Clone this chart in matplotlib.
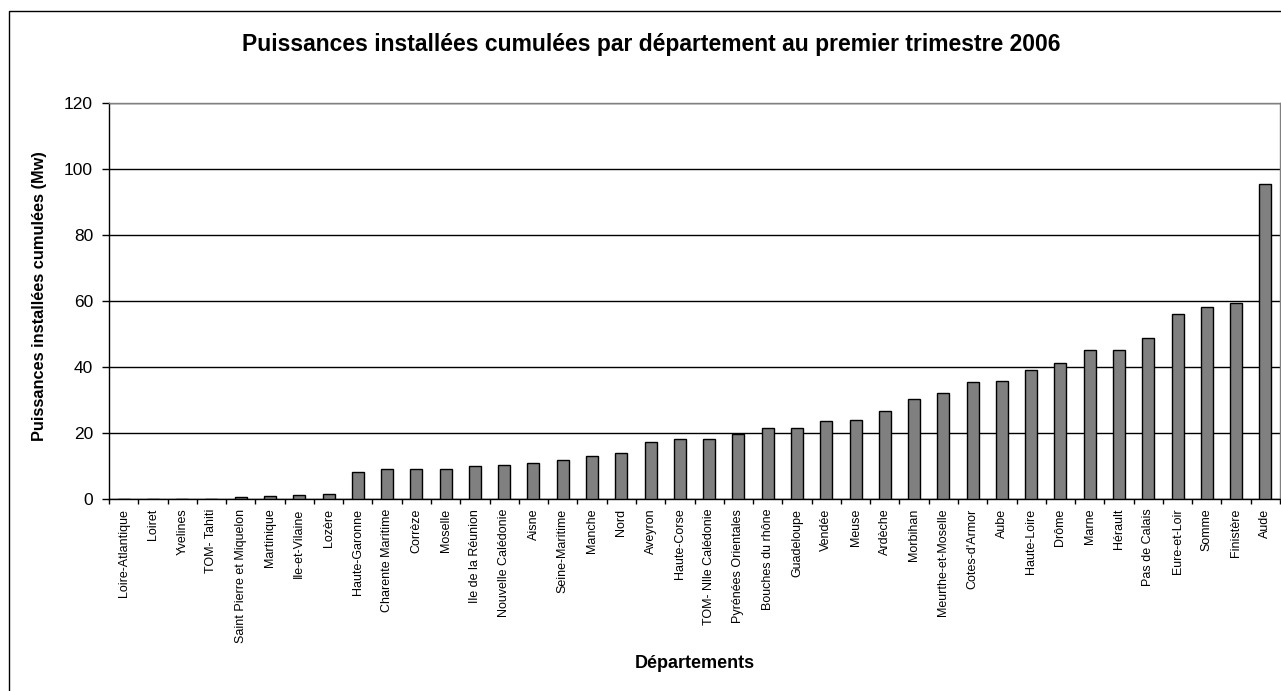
import matplotlib
matplotlib.use("Agg")
import matplotlib.pyplot as plt
import numpy as np
from matplotlib.patches import Rectangle

plt.rcParams['font.family'] = ['Liberation Sans', 'DejaVu Sans']

departements = ["Loire-Atlantique", "Loiret", "Yvelines", "TOM- Tahiti",
                "Saint Pierre et Miquelon", "Martinique", "Ile-et-Vilaine", "Lozère",
                "Haute-Garonne", "Charente Maritime", "Corrèze", "Moselle",
                "Ile de la Réunion", "Nouvelle Calédonie", "Aisne", "Seine-Maritime",
                "Manche", "Nord", "Aveyron", "Haute-Corse", "TOM- Nlle Calédonie",
                "Pyrénées Orientales", "Bouches du rhône", "Guadeloupe", "Vendée",
                "Meuse", "Ardèche", "Morbihan", "Meurthe-et-Moselle", "Cotes-d'Armor",
                "Aube", "Haute-Loire", "Drôme", "Marne", "Hérault", "Pas de Calais",
                "Eure-et-Loir", "Somme", "Finistère", "Aude"]
puissances = [0, 0, 0, 0, 0.7, 0.9, 1.2, 1.6, 8.1, 9.0, 9.0, 9.0, 9.9, 10.4,
              10.9, 11.9, 12.9, 13.8, 17.2, 18.1, 18.1, 19.7, 21.4, 21.4, 23.6,
              23.9, 26.6, 30.4, 32.0, 35.6, 35.9, 39.1, 41.1, 45.3, 45.3, 48.9,
              56.0, 58.1, 59.5, 95.5]
y_ticks = [0, 20, 40, 60, 80, 100, 120]

W, H = 1281, 691
fig = plt.figure(figsize=(W / 100, H / 100), dpi=100)
fig.patches.append(Rectangle((8.5 / W, -10 / H), (W + 20) / W, (H - 10.5 + 10) / H,
                             transform=fig.transFigure, fill=False,
                             edgecolor='black', linewidth=1.0))

ax = fig.add_axes([109 / W, (H - 499) / H, (1280 - 109) / W, (499 - 103) / H])
x = np.arange(len(departements))
ax.bar(x, puissances, width=0.41, color='#808080', edgecolor='black',
       linewidth=1.0, zorder=3)

ax.set_xlim(-0.5, len(departements) - 0.5)
ax.set_ylim(0, 120)
ax.set_yticks(y_ticks)
ax.set_yticklabels([str(v) for v in y_ticks], fontsize=12.5)
ax.yaxis.grid(True, color='black', linewidth=1.0, zorder=0)
ax.set_axisbelow(True)

ax.set_xticks(x)
ax.set_xticklabels(departements, rotation=90, fontsize=9)
ax.tick_params(axis='x', which='major', length=0, pad=7)
ax.set_xticks(np.arange(-0.5, len(departements), 1.0), minor=True)
ax.tick_params(axis='x', which='minor', length=3.5, width=1.0, color='black')
ax.tick_params(axis='y', length=5, width=1.0, pad=6.5)

for s in ['left', 'bottom']:
    ax.spines[s].set_color('black')
    ax.spines[s].set_linewidth(1.0)
for s in ['top', 'right']:
    ax.spines[s].set_color('#808080')
    ax.spines[s].set_linewidth(1.0)

fig.text(40 / W, 1 - 296 / H, "Puissances installées cumulées (Mw)",
         rotation=90, ha='center', va='center', fontsize=11.8, fontweight='bold')
fig.text(695 / W, 1 - 663 / H, "Départements",
         ha='center', va='center', fontsize=13, fontweight='bold')
fig.text(651 / W, 1 - 45 / H,
         "Puissances installées cumulées par département au premier trimestre 2006",
         ha='center', va='center', fontsize=16.5, fontweight='bold')

fig.savefig("out.png", dpi=100)
